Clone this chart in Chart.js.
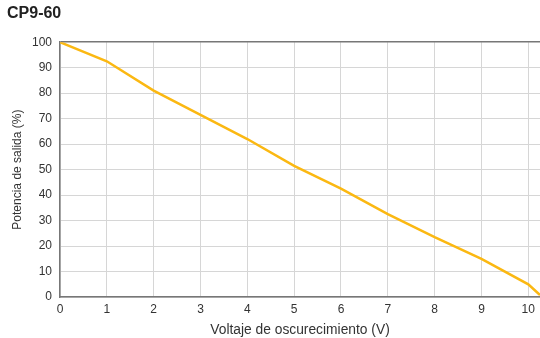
<!DOCTYPE html>
<html>
<head>
<meta charset="utf-8">
<script src="https://cdn.jsdelivr.net/npm/chart.js"></script>
<style>
  html, body { margin: 0; padding: 0; background: #fff; }
  #wrap { width: 540px; height: 338px; }
</style>
</head>
<body>
<div id="wrap"><canvas id="dimChart" width="540" height="338"></canvas></div>
<script>
// curve
const voltage = [0, 1, 2, 3, 4, 5, 6, 7, 8, 9, 10, 10.25];
const outputPct = [100, 92.5, 81, 71.5, 62, 51.5, 42.5, 32.5, 23.5, 15, 5, 0.8];
const yTicks = [0, 10, 20, 30, 40, 50, 60, 70, 80, 90, 100];

const FONT = 'Liberation Sans, Arial, sans-serif';

document.addEventListener("DOMContentLoaded", function () {
    const ctx = document.getElementById('dimChart').getContext('2d');
    new Chart(ctx, {
        type: 'line',
        data: {
            datasets: [{
                label: 'CP9-60',
                data: voltage.map((v, i) => ({ x: v, y: outputPct[i] })),
                borderColor: '#FBB812',
                borderWidth: 2.5,
                pointRadius: 0,
                tension: 0,
                fill: false
            }]
        },
        options: {
            responsive: false,
            animation: false,
            layout: { padding: { left: 7, right: 0, top: 0, bottom: 0 } },
            plugins: {
                legend: { display: false },
                tooltip: { enabled: false },
                title: {
                    display: true,
                    text: 'CP9-60',
                    align: 'start',
                    color: '#222',
                    font: { family: FONT, size: 16, weight: 'bold' },
                    padding: { top: 4, bottom: 19 }
                }
            },
            scales: {
                x: {
                    type: 'linear',
                    min: 0,
                    max: 10.25,
                    afterBuildTicks: s => { s.ticks = voltage.slice(0, 11).map(v => ({ value: v })); },
                    ticks: { color: '#333', font: { family: FONT, size: 12 }, padding: 5, maxRotation: 0 },
                    grid: { color: '#d6d6d6', drawTicks: false },
                    border: { color: '#777', width: 1.5 },
                    title: {
                        display: true,
                        text: 'Voltaje de oscurecimiento (V)',
                        color: '#333',
                        font: { family: FONT, size: 13.8 },
                        padding: { top: 0, bottom: 0 }
                    }
                },
                y: {
                    min: 0,
                    max: 100,
                    afterBuildTicks: s => { s.ticks = yTicks.map(v => ({ value: v })); },
                    afterFit: s => { s.width = 53; },
                    ticks: { color: '#333', font: { family: FONT, size: 12 }, padding: 8 },
                    grid: {
                        color: c => (c.tick && c.tick.value === 100) ? '#777' : '#d6d6d6',
                        lineWidth: c => (c.tick && c.tick.value === 100) ? 1.5 : 1,
                        drawTicks: false
                    },
                    border: { color: '#777', width: 1.5 },
                    title: {
                        display: true,
                        text: 'Potencia de salida (%)',
                        color: '#333',
                        font: { family: FONT, size: 12 },
                        padding: { top: 3, bottom: 2 }
                    }
                }
            }
        }
    });
});
</script>
</body>
</html>
